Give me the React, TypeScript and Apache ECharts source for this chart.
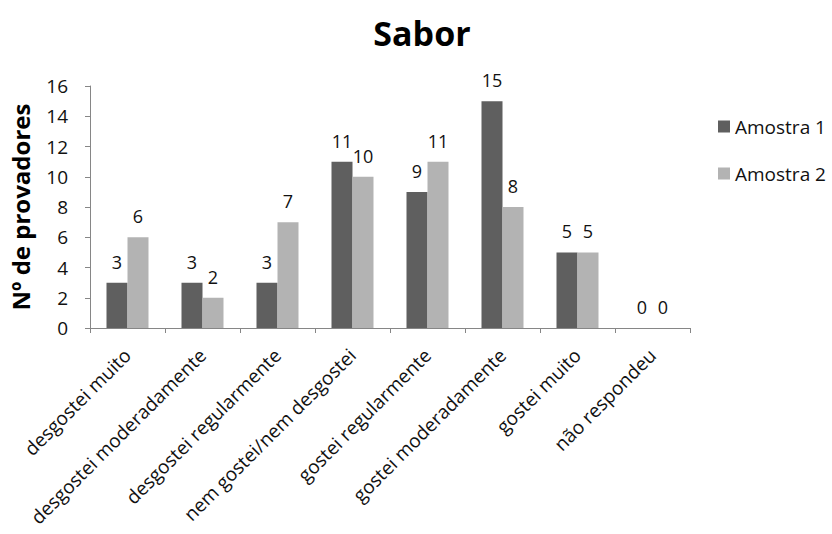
import React, { useEffect, useRef } from "react";
import * as echarts from "echarts";

const categories = [
  "desgostei muito",
  "desgostei moderadamente",
  "desgostei regularmente",
  "nem gostei/nem desgostei",
  "gostei regularmente",
  "gostei moderadamente",
  "gostei muito",
  "não respondeu",
];
const amostra1 = [3, 3, 3, 11, 9, 15, 5, 0];
const amostra2 = [6, 2, 7, 10, 11, 8, 5, 0];
const seriesNames = ["Amostra 1", "Amostra 2"];
const colors = ["#5f5f5f", "#b3b3b3"];

const FONT = "'Open Sans', 'DejaVu Sans', sans-serif";

export default function App() {
  const ref = useRef<HTMLDivElement>(null);
  useEffect(() => {
    if (!ref.current) return;
    const chart = echarts.init(ref.current, undefined, { renderer: "svg" });
    const labelStyle = {
      show: true,
      position: "top" as const,
      distance: 12,
      color: "#111",
      fontSize: 18,
      fontFamily: FONT,
    };
    chart.setOption({
      animation: false,
      backgroundColor: "#fff",
      title: {
        text: "Sabor",
        left: 417,
        top: 11,
        textAlign: "center",
        textStyle: { fontSize: 34, fontWeight: "bold", color: "#000", fontFamily: FONT },
      },
      legend: {
        orient: "vertical",
        left: 713,
        top: 112,
        itemWidth: 12,
        itemHeight: 12,
        itemGap: 28,
        icon: "rect",
        textStyle: { fontSize: 19, color: "#111", fontFamily: FONT },
        data: seriesNames,
      },
      grid: {
        left: 90,
        right: 142,
        top: 86,
        bottom: 206,
        containLabel: false,
        outerBoundsMode: "none",
      },
      xAxis: {
        type: "category",
        data: categories,
        axisLine: { lineStyle: { color: "#868686" } },
        axisTick: { show: true, alignWithLabel: false, length: 5, lineStyle: { color: "#868686" } },
        axisLabel: {
          rotate: 45,
          interval: 0,
          fontSize: 19,
          color: "#111",
          fontFamily: FONT,
          margin: 24,
        },
      },
      yAxis: {
        type: "value",
        min: 0,
        max: 16,
        interval: 2,
        name: "Nº de provadores",
        nameLocation: "middle",
        nameGap: 58,
        nameTextStyle: { fontSize: 24, fontWeight: "bold", color: "#000", fontFamily: FONT },
        axisLine: { show: true, lineStyle: { color: "#868686" } },
        axisTick: { show: true, length: 5, lineStyle: { color: "#868686" } },
        splitLine: { show: false },
        axisLabel: { fontSize: 19, color: "#111", fontFamily: FONT, margin: 22 },
      },
      series: [
        {
          name: seriesNames[0],
          type: "bar",
          data: amostra1,
          itemStyle: { color: colors[0] },
          barGap: "0%",
          barCategoryGap: "44%",
          label: labelStyle,
        },
        {
          name: seriesNames[1],
          type: "bar",
          data: amostra2,
          itemStyle: { color: colors[1] },
          barGap: "0%",
          barCategoryGap: "44%",
          label: labelStyle,
        },
      ],
    });
    return () => chart.dispose();
  }, []);
  return (
    <div
      ref={ref}
      style={{ position: "absolute", left: 0, top: 0, width: 832, height: 534 }}
    />
  );
}
